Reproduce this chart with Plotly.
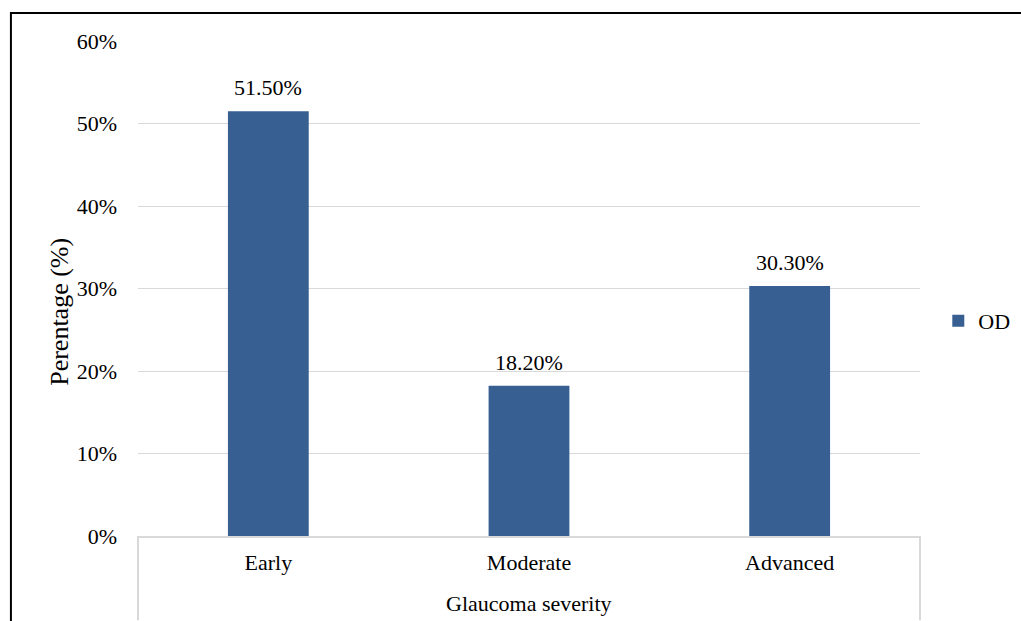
import plotly.graph_objects as go

# Distribution of glaucoma severity (right eye)
categories = ["Early", "Moderate", "Advanced"]
od_share = [0.515, 0.182, 0.303]
tick_values = [0, 0.1, 0.2, 0.3, 0.4, 0.5, 0.6]
tick_labels = ["0%", "10%", "20%", "30%", "40%", "50%", "60%"]

BAR_COLOR = "#375F91"
GRID = "#d9d9d9"
FONT = "Liberation Serif, Times New Roman, serif"
FS = 22

fig = go.Figure()
fig.add_trace(go.Bar(
    x=categories, y=od_share, name="OD",
    marker=dict(color=BAR_COLOR, line=dict(width=0)),
    width=0.31,
))

# value labels above each bar
for cat, val in zip(categories, od_share):
    fig.add_annotation(
        x=cat, y=val, xref="x", yref="y",
        text=f"{val * 100:.2f}%", showarrow=False,
        xanchor="center", yanchor="bottom", yshift=9,
        font=dict(family=FONT, size=FS, color="#000"),
    )

# axis titles
fig.add_annotation(
    x=-0.0997, y=0.453, xref="paper", yref="paper",
    xanchor="center", yanchor="middle",
    text="Perentage (%)", textangle=-90, showarrow=False,
    font=dict(family=FONT, size=26, color="#000"),
)
fig.add_annotation(
    x=0.5, y=-0.137, xref="paper", yref="paper",
    xanchor="center", yanchor="middle",
    text="Glaucoma severity", showarrow=False,
    font=dict(family=FONT, size=FS, color="#000"),
)

# category-axis outer separators
for xp in (0, 1):
    fig.add_shape(type="line", xref="paper", yref="paper",
                  x0=xp, x1=xp, y0=0, y1=-0.17,
                  line=dict(color=GRID, width=2))

# outer chart frame
fig.add_shape(type="rect", xref="paper", yref="paper",
              x0=-0.1625, x1=1.3, y0=-0.3, y1=1.0566,
              line=dict(color="#000", width=2), layer="below")

fig.update_layout(
    width=1021, height=621,
    margin=dict(l=138, r=101, t=41, b=85, autoexpand=False),
    paper_bgcolor="white", plot_bgcolor="white",
    font=dict(family=FONT, size=FS, color="#000"),
    bargap=0.69,
    showlegend=True,
    legend=dict(xref="container", yref="container",
                x=0.919, y=0.483, xanchor="left", yanchor="middle",
                font=dict(family=FONT, size=FS, color="#000"),
                itemwidth=30, bgcolor="rgba(0,0,0,0)"),
    xaxis=dict(
        range=[-0.5, 2.5], showgrid=False, showline=True,
        linecolor=GRID, linewidth=2, ticks="",
        ticklabelstandoff=6,
        tickfont=dict(family=FONT, size=FS, color="#000"),
    ),
    yaxis=dict(
        range=[0, 0.6], tickvals=tick_values, ticktext=tick_labels,
        showgrid=True, gridcolor=GRID, gridwidth=1,
        zeroline=False, showline=False, ticks="",
        ticklabelstandoff=20,
        tickfont=dict(family=FONT, size=FS, color="#000"),
    ),
)

fig.write_html("out.html")
